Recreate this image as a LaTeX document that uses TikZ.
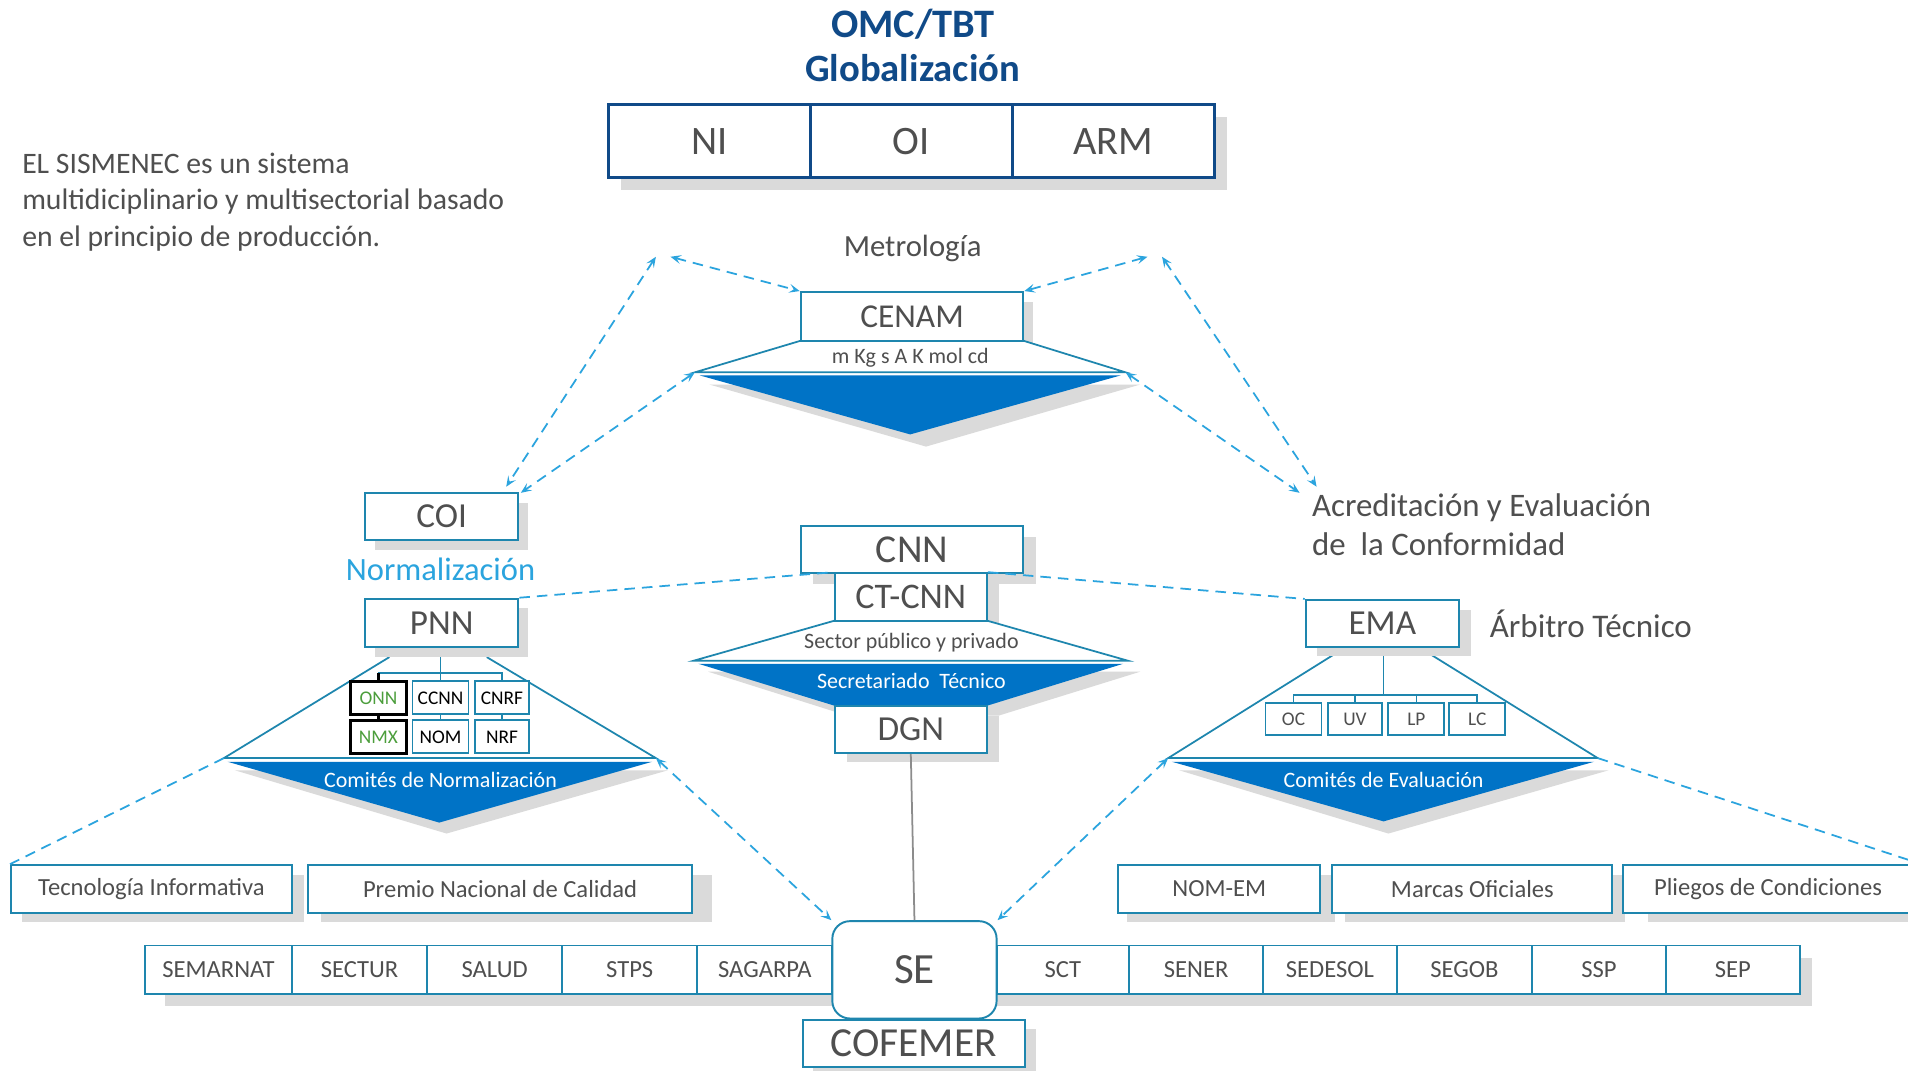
\documentclass[tikz,border=0pt]{standalone}
\usepackage{fontspec}
\setmainfont{Carlito}
\usetikzlibrary{arrows.meta}
\definecolor{bxc}{HTML}{1E86AE}
\definecolor{dsh}{HTML}{2BA4DE}
\definecolor{tri}{HTML}{0073C6}
\definecolor{navy}{HTML}{104A88}
\definecolor{txt}{HTML}{4F4F4F}
\definecolor{shd}{HTML}{DADADA}
\definecolor{grn}{HTML}{4C9E3C}
\definecolor{vline}{HTML}{8C8C8C}
\newdimen\U \U=0.024337cm
\newcommand\fsz[1]{\fontsize{#1}{#1}\selectfont}
\newcommand\mkbox[7][]{\node[bx,minimum width={(#5-#3)*\U},minimum height={(#6-#4)*\U},#1] (#2) at ({(#3+#5)/2},{(#4+#6)/2}) {#7};}
\tikzset{
 bx/.style={draw=bxc, line width=1.1pt, fill=white, inner sep=0pt, text=txt},
 sb/.style={bx, line width=1.8pt, draw=black, text=grn},
 tl/.style={draw=bxc, line width=1pt},
 dl/.style={draw=dsh, line width=1pt, dash pattern=on 6pt off 4pt},
 da/.style={dl, {Stealth[length=6pt,width=5pt,inset=2.5pt]}-{Stealth[length=6pt,width=5pt,inset=2.5pt]}},
 lbl/.style={text=txt, inner sep=0pt},
}
\begin{document}
\begin{tikzpicture}[x=0.024337cm, y=-0.024337cm]
\clip (0,0) rectangle (1568,880);
\fill[white] (0,0) rectangle (1568,880);

% ---------- title
\node[text=navy, font=\bfseries\fsz{23}] (t1) at (750,20) {OMC/TBT};
\node[text=navy, font=\bfseries\fsz{22}] (t2) at (750,56) {Globalización};

% ---------- NI OI ARM
\fill[shd] (510,96) rectangle (1008,156);
\mkbox[draw=navy,line width=1.6pt]{ni}{500}{86}{666}{146}{\fsz{23}NI}
\mkbox[draw=navy,line width=1.6pt]{oi}{666}{86}{832}{146}{\fsz{23}OI}
\mkbox[draw=navy,line width=1.6pt]{arm}{832}{86}{998}{146}{\fsz{23}ARM}

% ---------- paragraph
\node[lbl, anchor=west, align=left, font=\fontsize{16.9}{20.7}\selectfont] (para) at (18,166)
 {EL SISMENEC es un sistema\\multidiciplinario y multisectorial basado\\en el principio de producción.};

% ---------- Metrologia
\node[lbl, font=\fsz{17.5}] (metro) at (750,204) {Metrología};
\fill[shd] (666,248) rectangle (849,288);
\fill[shd] (583,316) -- (937,316) -- (761,367) -- cycle;
\filldraw[fill=white, tl] (658,280) -- (571,306) -- (925,306) -- (841,280) -- cycle;
\fill[tri] (575,308.5) -- (921,308.5) -- (748,357) -- cycle;
\mkbox{cenam}{658}{240}{841}{280}{\fsz{19}CENAM}
\node[lbl, font=\fsz{12.5}] (units) at (748,294) {m Kg s A K mol cd};
\coordinate (cl) at (571,306);
\coordinate (cr) at (925,306);
\coordinate (apL1) at (539,211);
\coordinate (apL2) at (551,211);
\coordinate (apR1) at (943,211);
\coordinate (apR2) at (955,211);
\coordinate (coiA) at (416,400);
\coordinate (coiB) at (428,405);
\coordinate (acA) at (1082,400);
\coordinate (acB) at (1068,405);

% ---------- COI / PNN
\fill[shd] (308,413) rectangle (434,452);
\mkbox{coi}{300}{405}{426}{444}{\fsz{20}COI}
\node[text=dsh, inner sep=0pt, font=\fsz{18.5}] (norm) at (362,468) {Normalización};

\coordinate (nl) at (184,623);
\coordinate (nr) at (539,623);
\draw[tl] (320,540) -- (nl) -- (nr) -- (400,540);
\fill[shd] (193,633) -- (549,633) -- (367,685) -- cycle;
\fill[tri] (187,626) -- (536,626) -- (361,676) -- cycle;
\node[text=white, inner sep=0pt, font=\fsz{12.5}] (cnorm) at (362,641) {Comités de Normalización};

\fill[shd] (308,500) rectangle (434,540);
\mkbox{pnn}{300}{492}{426}{532}{\fsz{20}PNN}

\mkbox[sb]{onn}{288}{560}{334}{587}{\fsz{11}ONN}
\mkbox{ccnn}{339}{560}{385}{587}{\fsz{11}\color{black}CCNN}
\mkbox{cnrf}{390}{560}{435}{587}{\fsz{11}\color{black}CNRF}
\mkbox[sb]{nmx}{288}{592}{334}{619}{\fsz{11}NMX}
\mkbox{nom}{339}{592}{385}{619}{\fsz{11}\color{black}NOM}
\mkbox{nrf}{390}{592}{435}{619}{\fsz{11}\color{black}NRF}
\coordinate (pj) at (362,553);
\draw[tl] (362,540) -- (ccnn.north);
\draw[tl] (onn.north |- pj) -- (cnrf.north |- pj) -- (cnrf.north);
\draw[black, line width=1.8pt] (onn.north |- pj) -- (onn.north);
\draw[black, line width=1.8pt] (onn.south) -- (nmx.north);
\draw[tl] (ccnn.south) -- (nom.north);
\draw[tl] (cnrf.south) -- (nrf.north);

% ---------- CNN / CT-CNN / DGN
\fill[shd] (668,441) rectangle (851,480);
\fill[shd] (696,480) rectangle (821,520);
\fill[shd] (582,552) -- (937,552) -- (821,588) -- (696,588) -- cycle;
\fill[shd] (696,588) rectangle (821,626);
\filldraw[fill=white, tl] (686,510) -- (570,543) -- (927,543) -- (811,510) -- cycle;
\fill[tri] (574,545.5) -- (923,545.5) -- (811,580) -- (686,580) -- cycle;
\node[lbl, font=\fsz{12.5}] (sector) at (749,528) {Sector público y privado};
\node[text=white, inner sep=0pt, font=\fsz{12.5}] (secre) at (749,560) {Secretariado\ \ Técnico};
\mkbox{cnn}{658}{432}{841}{471}{\fsz{22.5}CNN}
\mkbox{ctcnn}{686}{471}{811}{510}{\fsz{20.5}CT-CNN}
\mkbox{dgn}{686}{580}{811}{619}{\fsz{20}DGN}

% ---------- EMA
\node[lbl, anchor=west, align=left, font=\fontsize{18.7}{22}\selectfont] (acred) at (1078,431)
 {Acreditación y Evaluación\\de\ \ la Conformidad};
\coordinate (el) at (960,623);
\coordinate (er) at (1313,623);
\draw[tl] (1096,538) -- (el) -- (er) -- (1176,538);
\fill[shd] (969,633) -- (1322,633) -- (1141,685) -- cycle;
\fill[tri] (963,626) -- (1310,626) -- (1137,675) -- cycle;
\node[text=white, inner sep=0pt, font=\fsz{12.5}] (ceval) at (1137,641) {Comités de Evaluación};
\fill[shd] (1082,501) rectangle (1209,539);
\mkbox{ema}{1073}{493}{1199}{532}{\fsz{20}EMA}
\node[lbl, anchor=west, font=\fsz{18.8}] (arb) at (1224,513) {Árbitro Técnico};
\mkbox{oc}{1040}{578}{1086}{604}{\fsz{11}OC}
\mkbox{uv}{1091}{578}{1136}{604}{\fsz{11}UV}
\mkbox{lp}{1141}{578}{1187}{604}{\fsz{11}LP}
\mkbox{lc}{1191}{578}{1237}{604}{\fsz{11}LC}
\coordinate (ej) at (1137,571);
\draw[tl] (1137,539) -- (ej);
\draw[tl] (oc.north) -- (oc.north |- ej) -- (lc.north |- ej) -- (lc.north);
\draw[tl] (uv.north) -- (uv.north |- ej);
\draw[tl] (lp.north) -- (lp.north |- ej);

% ---------- upper row of boxes
\fill[shd] (18,719) rectangle (250,758);
\mkbox{tec}{9}{711}{240}{750}{\fsz{14}Tecnología Informativa}
\fill[shd] (264,719) rectangle (585,758);
\mkbox{premio}{253}{711}{569}{750}{\fsz{14}Premio Nacional de Calidad}
\fill[shd] (926,719) rectangle (1097,758);
\mkbox{nomem}{919}{711}{1085}{750}{\fsz{14}NOM-EM}
\fill[shd] (1105,719) rectangle (1335,758);
\mkbox{marcas}{1095}{711}{1325}{750}{\fsz{14}Marcas Oficiales}
\fill[shd] (1354,719) rectangle (1590,758);
\mkbox{pliegos}{1334}{711}{1572}{750}{\fsz{14}Pliegos de Condiciones}

% ---------- secretariats
\fill[shd] (136,787) rectangle (1489,827);
\mkbox{semarnat}{119}{777}{240}{817}{\fsz{14}SEMARNAT}
\mkbox{sectur}{240}{777}{351}{817}{\fsz{14}SECTUR}
\mkbox{salud}{351}{777}{462}{817}{\fsz{14}SALUD}
\mkbox{stps}{462}{777}{573}{817}{\fsz{14}STPS}
\mkbox{sagarpa}{573}{777}{684}{817}{\fsz{14}SAGARPA}
\mkbox{sct}{819}{777}{928}{817}{\fsz{14}SCT}
\mkbox{sener}{928}{777}{1038}{817}{\fsz{14}SENER}
\mkbox{sedesol}{1038}{777}{1148}{817}{\fsz{14}SEDESOL}
\mkbox{segob}{1148}{777}{1259}{817}{\fsz{14}SEGOB}
\mkbox{ssp}{1259}{777}{1369}{817}{\fsz{14}SSP}
\mkbox{sep}{1369}{777}{1479}{817}{\fsz{14}SEP}

\fill[shd] (668,846) rectangle (851,890);
\mkbox{cofemer}{660}{838}{842}{877}{\fsz{23.5}COFEMER}
\mkbox[rounded corners=10pt]{se}{684}{757}{819}{837}{\fsz{24.5}SE}

% ---------- connectors
\draw[vline, line width=1pt] (dgn.south) -- (se.north);
\draw[dl] (pnn.north east) -- (ctcnn.north west);
\draw[dl] (ctcnn.north east) -- (ema.north west);
\draw[dl] (nl) -- (tec.north west);
\coordinate (edgeR) at (1600,717);
\draw[dl] (er) -- (edgeR);
\draw[da] (apL2) -- (cenam.north west);
\draw[da] (apL1) -- (coiA);
\draw[da] (cl) -- (coiB);
\draw[da] (apR1) -- (cenam.north east);
\draw[da] (apR2) -- (acA);
\draw[da] (cr) -- (acB);
\draw[da] (nr) -- (se.north west);
\draw[da] (el) -- (se.north east);
\end{tikzpicture}
\end{document}
